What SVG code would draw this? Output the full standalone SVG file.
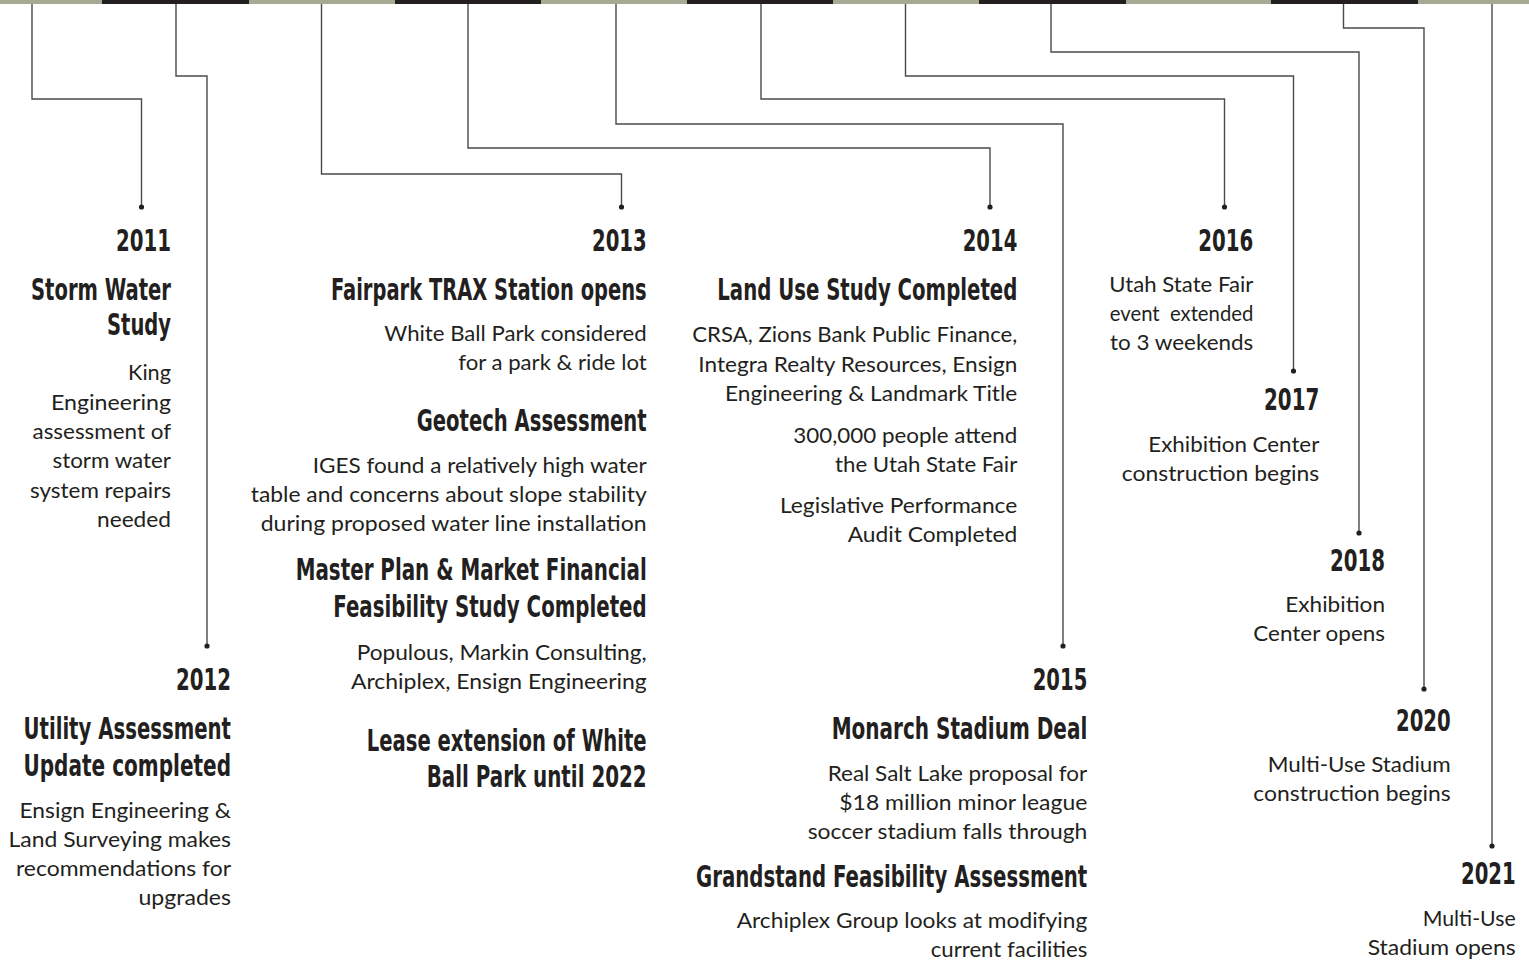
<svg xmlns="http://www.w3.org/2000/svg" width="1529" height="963" viewBox="0 0 1529 963">
<style>
.bg{fill:#ffffff}
.g{fill:#a5ab93}
.k{fill:#231f20}
.ln{fill:none;stroke:#4a4a4c;stroke-width:1.4}
.dot{fill:#231f20}
text{fill:#231f20;text-anchor:end}
.h{font-family:"Liberation Sans Narrow","DejaVu Sans Condensed","Liberation Sans",sans-serif;font-weight:bold;font-size:31px}
.b{font-family:Lato,"Open Sans","Liberation Sans",sans-serif;font-size:22px}
</style>
<rect class="bg" x="0" y="0" width="1529" height="963"/>
<g id="topbar">
<rect class="g" x="0" y="0" width="102" height="4"/>
<rect class="k" x="102" y="0" width="147" height="4"/>
<rect class="g" x="249" y="0" width="146" height="4"/>
<rect class="k" x="395" y="0" width="146" height="4"/>
<rect class="g" x="541" y="0" width="146" height="4"/>
<rect class="k" x="687" y="0" width="146" height="4"/>
<rect class="g" x="833" y="0" width="146" height="4"/>
<rect class="k" x="979" y="0" width="147" height="4"/>
<rect class="g" x="1126" y="0" width="145" height="4"/>
<rect class="k" x="1271" y="0" width="147" height="4"/>
<rect class="g" x="1418" y="0" width="111" height="4"/>
</g>
<g id="connectors">
<path class="ln" d="M32,4 V99 H141.5 V207"/>
<path class="ln" d="M176,4 V76 H207 V646"/>
<path class="ln" d="M321.5,4 V174 H621.5 V207"/>
<path class="ln" d="M468,4 V148 H990 V207"/>
<path class="ln" d="M616,4 V124 H1063 V646"/>
<path class="ln" d="M761,4 V99 H1224.5 V207"/>
<path class="ln" d="M905.5,4 V76 H1293.5 V371"/>
<path class="ln" d="M1051,4 V52 H1359 V533"/>
<path class="ln" d="M1343.5,4 V28 H1424 V689"/>
<path class="ln" d="M1492,4 V846"/>
<circle class="dot" cx="141.5" cy="207" r="2.6"/>
<circle class="dot" cx="207" cy="646" r="2.6"/>
<circle class="dot" cx="621.5" cy="207" r="2.6"/>
<circle class="dot" cx="990" cy="207" r="2.6"/>
<circle class="dot" cx="1063" cy="646" r="2.6"/>
<circle class="dot" cx="1224.5" cy="207" r="2.6"/>
<circle class="dot" cx="1293.5" cy="371" r="2.6"/>
<circle class="dot" cx="1359" cy="533" r="2.6"/>
<circle class="dot" cx="1424" cy="689" r="2.6"/>
<circle class="dot" cx="1492" cy="846" r="2.6"/>
</g>
<g id="n2011">
<text class="h" x="171" y="251" textLength="55" lengthAdjust="spacingAndGlyphs">2011</text>
<text class="h" x="171" y="300" textLength="140" lengthAdjust="spacingAndGlyphs">Storm Water</text>
<text class="h" x="171" y="335" textLength="64" lengthAdjust="spacingAndGlyphs">Study</text>
<text class="b" x="171" y="380" textLength="43" lengthAdjust="spacingAndGlyphs">King</text>
<text class="b" x="171" y="409.5" textLength="120" lengthAdjust="spacingAndGlyphs">Engineering</text>
<text class="b" x="171" y="439" textLength="138.5" lengthAdjust="spacingAndGlyphs">assessment of</text>
<text class="b" x="171" y="468" textLength="118.5" lengthAdjust="spacingAndGlyphs">storm water</text>
<text class="b" x="171" y="497.5" textLength="141" lengthAdjust="spacingAndGlyphs">system repairs</text>
<text class="b" x="171" y="527" textLength="74" lengthAdjust="spacingAndGlyphs">needed</text>
</g>
<g id="n2012">
<text class="h" x="231" y="690" textLength="55" lengthAdjust="spacingAndGlyphs">2012</text>
<text class="h" x="231" y="739" textLength="207.5" lengthAdjust="spacingAndGlyphs">Utility Assessment</text>
<text class="h" x="231" y="776" textLength="207.5" lengthAdjust="spacingAndGlyphs">Update completed</text>
<text class="b" x="231" y="817.5" textLength="211.5" lengthAdjust="spacingAndGlyphs">Ensign Engineering &amp;</text>
<text class="b" x="231" y="846.8" textLength="222.5" lengthAdjust="spacingAndGlyphs">Land Surveying makes</text>
<text class="b" x="231" y="876" textLength="215" lengthAdjust="spacingAndGlyphs">recommendations for</text>
<text class="b" x="231" y="905" textLength="92.5" lengthAdjust="spacingAndGlyphs">upgrades</text>
</g>
<g id="n2013">
<text class="h" x="646.7" y="250.5" textLength="54.7" lengthAdjust="spacingAndGlyphs">2013</text>
<text class="h" x="646.7" y="299.5" textLength="315.7" lengthAdjust="spacingAndGlyphs">Fairpark TRAX Station opens</text>
<text class="b" x="646.7" y="341" textLength="262.4" lengthAdjust="spacingAndGlyphs">White Ball Park considered</text>
<text class="b" x="646.7" y="370.3" textLength="188.4" lengthAdjust="spacingAndGlyphs">for a park &amp; ride lot</text>
<text class="h" x="646.7" y="431" textLength="230" lengthAdjust="spacingAndGlyphs">Geotech Assessment</text>
<text class="b" x="646.7" y="472.7" textLength="334" lengthAdjust="spacingAndGlyphs">IGES found a relatively high water</text>
<text class="b" x="646.7" y="502" textLength="396" lengthAdjust="spacingAndGlyphs">table and concerns about slope stability</text>
<text class="b" x="646.7" y="531" textLength="386" lengthAdjust="spacingAndGlyphs">during proposed water line installation</text>
<text class="h" x="646.7" y="579.5" textLength="351" lengthAdjust="spacingAndGlyphs">Master Plan &amp; Market Financial</text>
<text class="h" x="646.7" y="617" textLength="313.4" lengthAdjust="spacingAndGlyphs">Feasibility Study Completed</text>
<text class="b" x="646.7" y="660" textLength="290" lengthAdjust="spacingAndGlyphs">Populous, Markin Consulting,</text>
<text class="b" x="646.7" y="689" textLength="295.7" lengthAdjust="spacingAndGlyphs">Archiplex, Ensign Engineering</text>
<text class="h" x="646.7" y="750.7" textLength="280" lengthAdjust="spacingAndGlyphs">Lease extension of White</text>
<text class="h" x="646.7" y="786.7" textLength="220" lengthAdjust="spacingAndGlyphs">Ball Park until 2022</text>
</g>
<g id="n2014">
<text class="h" x="1017.3" y="250.5" textLength="54.6" lengthAdjust="spacingAndGlyphs">2014</text>
<text class="h" x="1017.3" y="300" textLength="300" lengthAdjust="spacingAndGlyphs">Land Use Study Completed</text>
<text class="b" x="1017.3" y="342.3" textLength="325" lengthAdjust="spacingAndGlyphs">CRSA, Zions Bank Public Finance,</text>
<text class="b" x="1017.3" y="371.6" textLength="319" lengthAdjust="spacingAndGlyphs">Integra Realty Resources, Ensign</text>
<text class="b" x="1017.3" y="400.9" textLength="292.3" lengthAdjust="spacingAndGlyphs">Engineering &amp; Landmark Title</text>
<text class="b" x="1017.3" y="442.7" textLength="224" lengthAdjust="spacingAndGlyphs">300,000 people attend</text>
<text class="b" x="1017.3" y="471.8" textLength="182.3" lengthAdjust="spacingAndGlyphs">the Utah State Fair</text>
<text class="b" x="1017.3" y="512.7" textLength="237.3" lengthAdjust="spacingAndGlyphs">Legislative Performance</text>
<text class="b" x="1017.3" y="541.8" textLength="169.6" lengthAdjust="spacingAndGlyphs">Audit Completed</text>
</g>
<g id="n2015">
<text class="h" x="1087.3" y="689.5" textLength="54.6" lengthAdjust="spacingAndGlyphs">2015</text>
<text class="h" x="1087.3" y="739.3" textLength="255.6" lengthAdjust="spacingAndGlyphs">Monarch Stadium Deal</text>
<text class="b" x="1087.3" y="780.7" textLength="259.6" lengthAdjust="spacingAndGlyphs">Real Salt Lake proposal for</text>
<text class="b" x="1087.3" y="810" textLength="248" lengthAdjust="spacingAndGlyphs">$18 million minor league</text>
<text class="b" x="1087.3" y="839.3" textLength="279.6" lengthAdjust="spacingAndGlyphs">soccer stadium falls through</text>
<text class="h" x="1087.3" y="886.7" textLength="391.3" lengthAdjust="spacingAndGlyphs">Grandstand Feasibility Assessment</text>
<text class="b" x="1087.3" y="928.3" textLength="350.6" lengthAdjust="spacingAndGlyphs">Archiplex Group looks at modifying</text>
<text class="b" x="1087.3" y="957.3" textLength="156.6" lengthAdjust="spacingAndGlyphs">current facilities</text>
</g>
<g id="n2016">
<text class="h" x="1253.3" y="250.5" textLength="55" lengthAdjust="spacingAndGlyphs">2016</text>
<text class="b" x="1253.3" y="291.7" textLength="144" lengthAdjust="spacingAndGlyphs">Utah State Fair</text>
<text class="b" x="1253.3" y="321" textLength="143.5" lengthAdjust="spacingAndGlyphs" xml:space="preserve">event  extended</text>
<text class="b" x="1253.3" y="350.3" textLength="143.3" lengthAdjust="spacingAndGlyphs">to 3 weekends</text>
</g>
<g id="n2017">
<text class="h" x="1319.3" y="410" textLength="55.3" lengthAdjust="spacingAndGlyphs">2017</text>
<text class="b" x="1319.3" y="451.7" textLength="171" lengthAdjust="spacingAndGlyphs">Exhibition Center</text>
<text class="b" x="1319.3" y="480.8" textLength="197.6" lengthAdjust="spacingAndGlyphs">construction begins</text>
</g>
<g id="n2018">
<text class="h" x="1385" y="570.7" textLength="55" lengthAdjust="spacingAndGlyphs">2018</text>
<text class="b" x="1385" y="611.7" textLength="99.7" lengthAdjust="spacingAndGlyphs">Exhibition</text>
<text class="b" x="1385" y="640.8" textLength="131.7" lengthAdjust="spacingAndGlyphs">Center opens</text>
</g>
<g id="n2020">
<text class="h" x="1450.7" y="731" textLength="54.7" lengthAdjust="spacingAndGlyphs">2020</text>
<text class="b" x="1450.7" y="771.7" textLength="183" lengthAdjust="spacingAndGlyphs">Multi-Use Stadium</text>
<text class="b" x="1450.7" y="800.8" textLength="197.4" lengthAdjust="spacingAndGlyphs">construction begins</text>
</g>
<g id="n2021">
<text class="h" x="1515.7" y="884.3" textLength="54.7" lengthAdjust="spacingAndGlyphs">2021</text>
<text class="b" x="1515.7" y="926" textLength="93" lengthAdjust="spacingAndGlyphs">Multi-Use</text>
<text class="b" x="1515.7" y="955.2" textLength="148" lengthAdjust="spacingAndGlyphs">Stadium opens</text>
</g>
</svg>
